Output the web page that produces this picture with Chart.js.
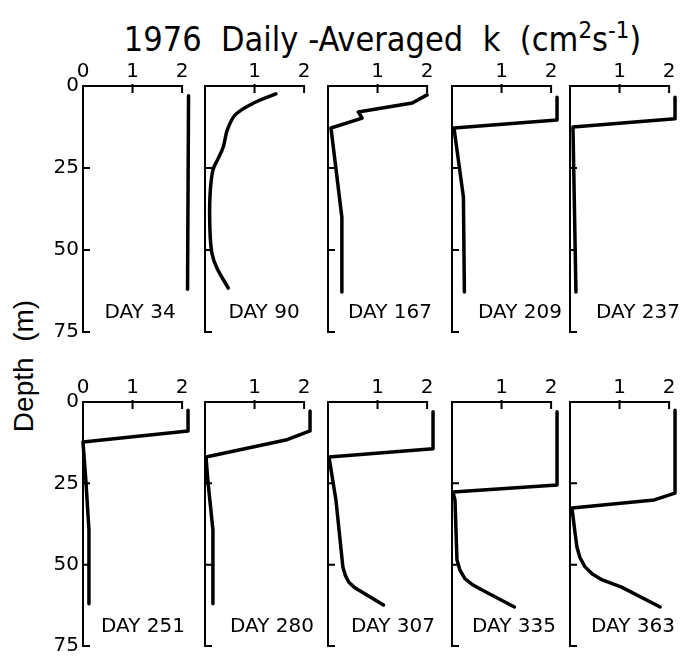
<!DOCTYPE html>
<html>
<head>
<meta charset="utf-8">
<script src="https://cdn.jsdelivr.net/npm/chart.js@4.4.0/dist/chart.umd.min.js"></script>
<style>
body { margin: 0; background: #fff; width: 681px; height: 658px; position: relative; overflow: hidden; }
canvas { position: absolute; }
#title { position: absolute; left: 0; top: 19px; width: 681px; padding-left: 84px; box-sizing: border-box; text-align: center;
  font-family: "Liberation Sans Narrow", "DejaVu Sans Condensed", sans-serif; font-size: 34px; line-height: 40px; white-space: pre; color: #000; }
#title sup { font-size: 0.7em; line-height: 0; vertical-align: 0.55em; }
#ylab { position: absolute; left: 24px; top: 366px; transform: translate(-50%, -50%) rotate(-90deg);
  font-family: "Liberation Sans", Arial, sans-serif; font-size: 28px; white-space: pre; color: #000; }
</style>
</head>
<body>
<div id="title">1976  Daily -Averaged  k  (cm<sup>2</sup>s<sup>-1</sup>)</div>
<div id="ylab">Depth  (m)</div>
<script>
// k in cm2/s, z = depth in m, one profile per day
const days = [34, 90, 167, 209, 237, 251, 280, 307, 335, 363];
const xTicks = [0, 1, 2];
const yTicks = [0, 25, 50, 75];

const k34 = [2.13, 2.11];
const z34 = [3, 62];
const k90 = [1.43, 0.98, 0.61, 0.45, 0.37, 0.27, 0.16, 0.10, 0.10, 0.14, 0.24, 0.47];
const z90 = [2.4, 5.2, 8.8, 13.4, 18.5, 22, 25.6, 33.8, 44, 51, 55.5, 61.6];
const k167 = [2.0, 1.70, 0.61, 0.69, 0.06, 0.28, 0.28];
const z167 = [2.7, 5.2, 7.9, 9.8, 12.8, 40, 62.8];
const k209 = [2.12, 2.12, 0.04, 0.23, 0.25];
const z209 = [3.4, 10.4, 12.8, 33.8, 62.8];
const k237 = [2.12, 2.12, 0.06, 0.12];
const z237 = [3.4, 10, 12.5, 62.8];
const k251 = [2.12, 2.12, 0.0, 0.06, 0.12, 0.12];
const z251 = [2.5, 8.9, 12.3, 24.6, 39.3, 62];
const k280 = [2.12, 2.12, 1.63, 0.02, 0.06, 0.16, 0.16];
const z280 = [2.8, 8.9, 11.7, 16.9, 24.6, 39.3, 62];
const k307 = [2.12, 2.12, 0.02, 0.16, 0.30, 0.35, 0.42, 0.55, 1.12];
const z307 = [3, 14.4, 16.9, 30.1, 50.7, 53.3, 55.4, 57.2, 62.4];
const k335 = [2.12, 2.12, 0.02, 0.06, 0.10, 0.16, 0.26, 0.40, 0.56, 1.26];
const z335 = [3, 25.5, 27.7, 30.1, 48.5, 51.7, 54.3, 56.0, 57.4, 63];
const k363 = [2.12, 2.12, 1.70, 0.04, 0.10, 0.14, 0.20, 0.30, 0.45, 0.65, 1.04, 1.82];
const z363 = [2.5, 28, 30.1, 32.6, 40, 44.6, 47.8, 50.6, 52.9, 54.7, 56.9, 63];

const profiles = [[k34, z34], [k90, z90], [k167, z167], [k209, z209], [k237, z237],
                  [k251, z251], [k280, z280], [k307, z307], [k335, z335], [k363, z363]];

// layout (pixels)
const panelLeft = [83, 205, 328, 452, 570];
const rowTop = [86, 402];
const plotH = [246, 244];
const plotW = 109;
const axisW = 40, axisH = 24;
const labelDx = [57, 59, 62, 68, 68, 60, 67, 65, 62, 63];

const FONT = '"DejaVu Sans", sans-serif';

// axis frame with inward ticks + day label
const framePlugin = {
  id: 'frame',
  afterDraw(chart, args, opts) {
    const ctx = chart.ctx, x = chart.scales.x, y = chart.scales.y;
    const x0 = x.getPixelForValue(0), x1 = x.getPixelForValue(1), x2 = x.getPixelForValue(2);
    const y0 = y.getPixelForValue(0), y75 = y.getPixelForValue(75);
    ctx.save();
    ctx.strokeStyle = '#000';
    ctx.lineWidth = 2;
    ctx.lineCap = 'square';
    ctx.beginPath();
    ctx.moveTo(x2, y0 + 6);
    ctx.lineTo(x2, y0);
    ctx.lineTo(x0, y0);
    ctx.lineTo(x0, y75);
    ctx.lineTo(x0 + 6, y75);
    ctx.moveTo(x1, y0 - 1);
    ctx.lineTo(x1, y0 + 6);
    [25, 50].forEach(v => {
      ctx.moveTo(x0, y.getPixelForValue(v));
      ctx.lineTo(x0 + 6, y.getPixelForValue(v));
    });
    ctx.stroke();
    ctx.fillStyle = '#000';
    ctx.font = '20px ' + FONT;
    ctx.textAlign = 'center';
    ctx.textBaseline = 'middle';
    ctx.fillText('DAY ' + opts.day, x0 + opts.dx, y75 - 19);
    ctx.restore();
  }
};

days.forEach((day, i) => {
  const col = i % 5, row = Math.floor(i / 5);
  const cv = document.createElement('canvas');
  cv.width = axisW + plotW + 4;
  cv.height = axisH + plotH[row] + 8;
  cv.style.left = (panelLeft[col] - axisW) + 'px';
  cv.style.top = (rowTop[row] - axisH) + 'px';
  document.body.appendChild(cv);

  const [k, z] = profiles[i];
  new Chart(cv, {
    type: 'line',
    data: {
      datasets: [{
        data: k.map((v, j) => ({ x: v, y: z[j] })),
        borderColor: '#000',
        borderWidth: 3.5,
        pointRadius: 0,
        tension: day === 90 ? 0.35 : 0,
        borderJoinStyle: 'round',
        borderCapStyle: 'round',
        clip: false
      }]
    },
    options: {
      responsive: false,
      animation: false,
      events: [],
      layout: { padding: { left: 0, right: 4, top: 0, bottom: 8 } },
      plugins: {
        legend: { display: false },
        tooltip: { enabled: false },
        frame: { day: day, dx: labelDx[i] }
      },
      scales: {
        x: {
          type: 'linear', position: 'top', min: 0, max: 2.2,
          grid: { display: false, drawTicks: false },
          border: { display: false },
          afterBuildTicks: s => { s.ticks = xTicks.map(v => ({ value: v })); },
          afterFit: s => { s.height = axisH; s.paddingLeft = 0; s.paddingRight = 0; },
          ticks: {
            color: '#000', padding: 2, maxRotation: 0, autoSkip: false,
            font: { family: FONT, size: 20 },
            callback: v => (col === 0 || v !== 0) ? String(v) : ''
          }
        },
        y: {
          type: 'linear', reverse: true, min: 0, max: 75,
          grid: { display: false, drawTicks: false },
          border: { display: false },
          afterBuildTicks: s => { s.ticks = yTicks.map(v => ({ value: v })); },
          afterFit: s => { s.width = axisW; s.paddingTop = 0; s.paddingBottom = 0; },
          ticks: {
            display: col === 0,
            color: '#000', padding: 4, autoSkip: false,
            font: { family: FONT, size: 20 }
          }
        }
      }
    },
    plugins: [framePlugin]
  });
});
</script>
</body>
</html>
